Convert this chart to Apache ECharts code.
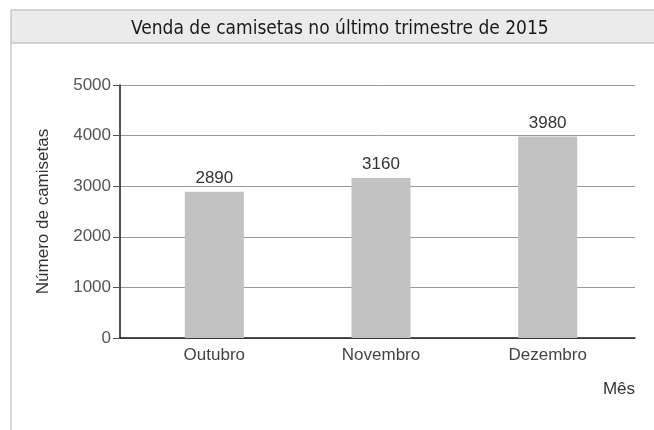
<!DOCTYPE html>
<html>
<head>
<meta charset="utf-8">
<script src="https://cdn.jsdelivr.net/npm/echarts@6/dist/echarts.min.js"></script>
<style>
  html, body { margin: 0; padding: 0; background: #fff; }
  #chart { width: 654px; height: 430px; }
</style>
</head>
<body>
<div id="chart"></div>
<script>
// dados do gráfico
const months = ['Outubro', 'Novembro', 'Dezembro'];
const sales = [2890, 3160, 3980];
const yTicks = [0, 1000, 2000, 3000, 4000, 5000];

const chart = echarts.init(document.getElementById('chart'));
const font = 'Liberation Sans';

const option = {
  backgroundColor: '#fff',
  animation: false,
  title: {
    text: 'Venda de camisetas no último trimestre de 2015',
    left: 126,
    top: 15,
    textStyle: {
      fontFamily: 'DejaVu Sans Condensed',
      fontSize: 19,
      fontWeight: 'normal',
      color: '#1a1a1a'
    }
  },
  graphic: [
    {
      type: 'rect', z: -1,
      shape: { x: 11, y: 10, width: 660, height: 33 },
      style: { fill: '#ebebeb', stroke: '#b0b0b0', lineWidth: 1 }
    },
    {
      type: 'line', z: -1,
      shape: { x1: 11, y1: 43, x2: 11, y2: 430 },
      style: { stroke: '#b5b5b5', lineWidth: 1 }
    }
  ],
  grid: [
    // grade de fundo (linhas e eixos)
    { left: 120, right: 19, top: 85, bottom: 92 },
    // grade das barras
    { left: 131, right: 23, top: 85, bottom: 92 }
  ],
  xAxis: [
    {
      gridIndex: 0, type: 'value', min: 0, max: 1,
      axisLine: { show: true, lineStyle: { color: '#1a1a1a', width: 1.5 } },
      axisTick: { show: false }, axisLabel: { show: false }, splitLine: { show: false },
      name: 'Mês', nameLocation: 'end', nameGap: 0,
      nameTextStyle: {
        fontFamily: font, fontSize: 17, color: '#333',
        align: 'right', verticalAlign: 'top', padding: [43, 0, 0, 0]
      }
    },
    {
      gridIndex: 1, type: 'category', data: months,
      axisLine: { show: false }, axisTick: { show: false },
      axisLabel: { fontFamily: font, fontSize: 17, color: '#444', margin: 9 }
    }
  ],
  yAxis: [
    {
      gridIndex: 0, type: 'value', min: yTicks[0], max: yTicks[yTicks.length - 1], interval: 1000,
      axisLine: { show: true, lineStyle: { color: '#1a1a1a', width: 1.5 } },
      axisTick: { show: true, length: 7, lineStyle: { color: '#555' } },
      axisLabel: { fontFamily: font, fontSize: 17, color: '#555', margin: 9, formatter: v => String(v) },
      splitLine: { show: true, lineStyle: { color: '#999', width: 1 } },
      name: 'Número de camisetas', nameLocation: 'middle', nameGap: 68, nameRotate: 90,
      nameTextStyle: { fontFamily: font, fontSize: 17, color: '#333' }
    },
    {
      gridIndex: 1, type: 'value', min: 0, max: 5000, interval: 1000,
      show: false
    }
  ],
  series: [
    {
      type: 'bar',
      xAxisIndex: 1, yAxisIndex: 1,
      data: sales,
      barWidth: 59,
      itemStyle: { color: '#c2c2c2' },
      label: {
        show: true, position: 'top', distance: 5,
        fontFamily: font, fontSize: 17, color: '#333'
      }
    }
  ]
};

chart.setOption(option);
</script>
</body>
</html>
